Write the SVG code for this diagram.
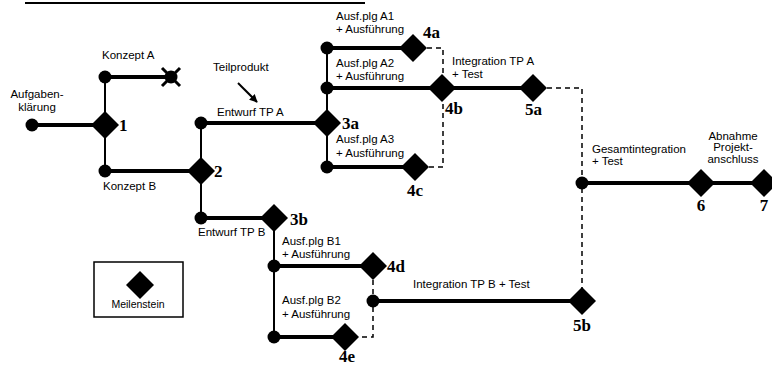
<svg xmlns="http://www.w3.org/2000/svg" width="772" height="367" viewBox="0 0 772 367">
<style>
.t{font-family:"Liberation Sans",Arial,sans-serif;font-size:11.5px;fill:#000}
.n{font-family:"Liberation Serif","Times New Roman",serif;font-size:17px;font-weight:bold;fill:#000}
.m{stroke:#000;stroke-width:4;fill:none}
.v{stroke:#000;stroke-width:2;fill:none}
.d{stroke:#000;stroke-width:1.5;fill:none;stroke-dasharray:5 4}
</style>
<defs>
<path id="dia" d="M0,-14 L14,0 L0,14 L-14,0 Z" fill="#000"/>
<circle id="dot" r="6.5" fill="#000"/>
<marker id="arr" viewBox="0 0 10 10" refX="9" refY="5" markerWidth="4" markerHeight="4" orient="auto"><path d="M0,0 L10,5 L0,10 Z" fill="#000"/></marker>
</defs>
<rect width="772" height="367" fill="#fff"/>
<line x1="25" y1="3" x2="365" y2="3" stroke="#000" stroke-width="2"/>
<g id="connectors">
<line class="m" x1="32" y1="125" x2="105" y2="125"/>
<line class="m" x1="105" y1="77" x2="171" y2="77"/>
<line class="m" x1="105" y1="171" x2="201" y2="171"/>
<line class="m" x1="201" y1="123" x2="327" y2="123"/>
<line class="m" x1="201" y1="218" x2="274" y2="218"/>
<line class="m" x1="327" y1="48" x2="413" y2="48"/>
<line class="m" x1="327" y1="88" x2="533" y2="88"/>
<line class="m" x1="327" y1="167" x2="415" y2="167"/>
<line class="m" x1="582" y1="183" x2="764" y2="183"/>
<line class="m" x1="274" y1="266" x2="373" y2="266"/>
<line class="m" x1="373" y1="301" x2="582" y2="301"/>
<line class="m" x1="274" y1="337" x2="345" y2="337"/>
<line class="v" x1="105" y1="77" x2="105" y2="171"/>
<line class="v" x1="201" y1="123" x2="201" y2="218"/>
<line class="v" x1="327" y1="48" x2="327" y2="167"/>
<line class="v" x1="274" y1="218" x2="274" y2="337"/>
<path class="d" d="M427,48 H443 V167 H429"/>
<path class="d" d="M547,88 H582 V301"/>
<path class="d" d="M373,280 V337 H359"/>
<line x1="238" y1="83" x2="257" y2="102" stroke="#000" stroke-width="2" marker-end="url(#arr)"/>
</g>
<g id="n-aufgaben"><use href="#dot" x="32" y="125"/><text class="t" x="37" y="98" text-anchor="middle">Aufgaben-</text><text class="t" x="37" y="111" text-anchor="middle">klärung</text></g>
<g id="n-1"><use href="#dia" x="105" y="125"/><text class="n" x="119" y="131">1</text></g>
<g id="n-konzeptA"><use href="#dot" x="105" y="77"/><text class="t" x="102" y="59">Konzept A</text></g>
<g id="n-x"><circle cx="171" cy="77" r="6.5" fill="#000"/><path d="M162,68 L180,86 M180,68 L162,86" stroke="#000" stroke-width="3"/></g>
<g id="n-konzeptB"><use href="#dot" x="105" y="171"/><text class="t" x="103" y="190">Konzept B</text></g>
<g id="n-2"><use href="#dia" x="201" y="171"/><text class="n" x="214" y="177">2</text></g>
<g id="n-teil"><text class="t" x="213" y="71">Teilprodukt</text></g>
<g id="n-entwA"><use href="#dot" x="201" y="123"/><text class="t" x="217" y="116">Entwurf TP A</text></g>
<g id="n-3a"><use href="#dia" x="327" y="123"/><text class="n" x="342" y="129">3a</text></g>
<g id="n-entwB"><use href="#dot" x="201" y="218"/><text class="t" x="198" y="236">Entwurf TP B</text></g>
<g id="n-3b"><use href="#dia" x="274" y="218"/><text class="n" x="290" y="225">3b</text></g>
<g id="n-A1"><use href="#dot" x="327" y="48"/><text class="t" x="336" y="20">Ausf.plg A1</text><text class="t" x="336" y="33">+ Ausführung</text></g>
<g id="n-4a"><use href="#dia" x="413" y="48"/><text class="n" x="423" y="38">4a</text></g>
<g id="n-A2"><use href="#dot" x="327" y="88"/><text class="t" x="336" y="67">Ausf.plg A2</text><text class="t" x="336" y="80">+ Ausführung</text></g>
<g id="n-4b"><use href="#dia" x="442" y="88"/><text class="n" x="445" y="114">4b</text><text class="t" x="452" y="65">Integration TP A</text><text class="t" x="452" y="78">+ Test</text></g>
<g id="n-5a"><use href="#dia" x="533" y="88"/><text class="n" x="525" y="115">5a</text></g>
<g id="n-A3"><use href="#dot" x="327" y="167"/><text class="t" x="336" y="143">Ausf.plg A3</text><text class="t" x="336" y="157">+ Ausführung</text></g>
<g id="n-4c"><use href="#dia" x="415" y="167"/><text class="n" x="407" y="196">4c</text></g>
<g id="n-gesamt"><use href="#dot" x="582" y="183"/><text class="t" x="592" y="153">Gesamtintegration</text><text class="t" x="592" y="165">+ Test</text></g>
<g id="n-6"><use href="#dia" x="701" y="183"/><text class="n" x="701" y="211" text-anchor="middle">6</text><text class="t" x="733" y="140" text-anchor="middle">Abnahme</text><text class="t" x="733" y="151" text-anchor="middle">Projekt-</text><text class="t" x="733" y="163" text-anchor="middle">anschluss</text></g>
<g id="n-7"><use href="#dia" x="764" y="183"/><text class="n" x="764" y="211" text-anchor="middle">7</text></g>
<g id="n-B1"><use href="#dot" x="274" y="266"/><text class="t" x="282" y="245">Ausf.plg B1</text><text class="t" x="282" y="258">+ Ausführung</text></g>
<g id="n-4d"><use href="#dia" x="373" y="266"/><text class="n" x="387" y="272">4d</text></g>
<g id="n-intB"><use href="#dot" x="373" y="301"/><text class="t" x="413" y="288">Integration TP B + Test</text></g>
<g id="n-5b"><use href="#dia" x="582" y="301"/><text class="n" x="582" y="331" text-anchor="middle">5b</text></g>
<g id="n-B2"><use href="#dot" x="274" y="337"/><text class="t" x="282" y="304">Ausf.plg B2</text><text class="t" x="282" y="318">+ Ausführung</text></g>
<g id="n-4e"><use href="#dia" x="345" y="337"/><text class="n" x="347" y="362" text-anchor="middle">4e</text></g>
<g id="legend"><rect x="94" y="262" width="89" height="55" fill="none" stroke="#000" stroke-width="1.5"/><use href="#dia" x="140" y="285"/><text class="t" x="138" y="308" text-anchor="middle" style="font-size:10.5px">Meilenstein</text></g>
</svg>
